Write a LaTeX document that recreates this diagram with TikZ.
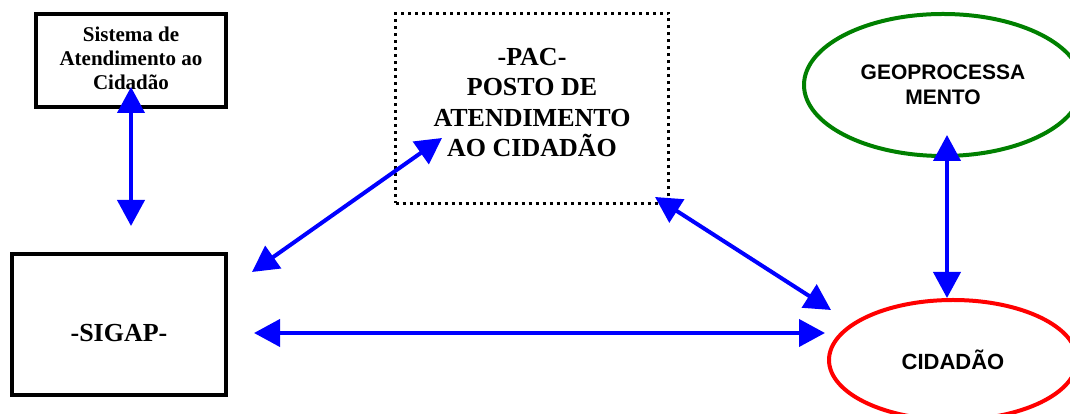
\documentclass[tikz,border=0pt]{standalone}
\usepackage{fontspec}
\setmainfont{Liberation Serif}
\setsansfont{Liberation Sans}
\usetikzlibrary{shapes,arrows,positioning,calc,arrows.meta}

\begin{document}
\begin{tikzpicture}[x=1pt, y=1pt,
        block/.style={draw, rectangle, line width=4pt, align=center, font=\rmfamily\bfseries},
        oval/.style={draw, ellipse, line width=4pt, inner sep=0pt, align=center, font=\sffamily\bfseries},
        link/.style={draw=blue, line width=4pt, {Triangle[length=26pt,width=27pt]}-{Triangle[length=26pt,width=27pt]}}
    ]
        \clip (0,0) rectangle (1070,414);

        % Blocks
        \node [block, minimum width=190pt, minimum height=93pt, text height=62.6pt, text depth=3.6pt, font=\fontsize{21}{24.2}\selectfont\rmfamily\bfseries] (sac) at (131,353.5) {Sistema de\\Atendimento ao\\Cidad\~ao};
        \node [block, minimum width=214pt, minimum height=141pt, text height=35pt, text depth=0pt, font=\fontsize{26}{30}\selectfont\rmfamily\bfseries] (sigap) at (119,89.5) {-SIGAP-};
        \node [block, line width=3pt, dash pattern=on 3pt off 4pt, minimum width=273pt, minimum height=190pt, text height=108.5pt, text depth=12pt, font=\fontsize{26}{30.5}\selectfont\rmfamily\bfseries] (pac) at (532,305.5) {-PAC-\\POSTO DE\\ATENDIMENTO\\AO CIDAD\~AO};

        % Ovals
        \node [oval, draw={rgb,255:red,0;green,128;blue,0}, minimum width=278pt, minimum height=142pt, font=\fontsize{21}{25}\selectfont\sffamily\bfseries] (geo) at (943,329) {GEOPROCESSA\\MENTO};
        \node [oval, draw=red, minimum width=248pt, minimum height=120pt, font=\fontsize{22}{26}\selectfont\sffamily\bfseries] (cid) at (953,54) {CIDAD\~AO};

        % Connections
        \draw [link] ($(sac.south)+(0,22)$) -- ($(sac.south |- sigap.north)+(0,26)$);
        \draw [link] ($(sigap.north east)+(24,-20)$) -- ($(pac.south west)+(48,67)$);
        \draw [link] ($(sigap.east)+(26,-8.5)$) -- ($(cid.west)+(-2,27)$);
        \draw [link] ($(pac.south east)+(-15,8)$) -- ($(cid.west)+(4,50)$);
        \draw [link] ($(geo.south)+(4,23)$) -- ($(geo.south |- cid.north)+(4,0)$);
    \end{tikzpicture}
\end{document}
